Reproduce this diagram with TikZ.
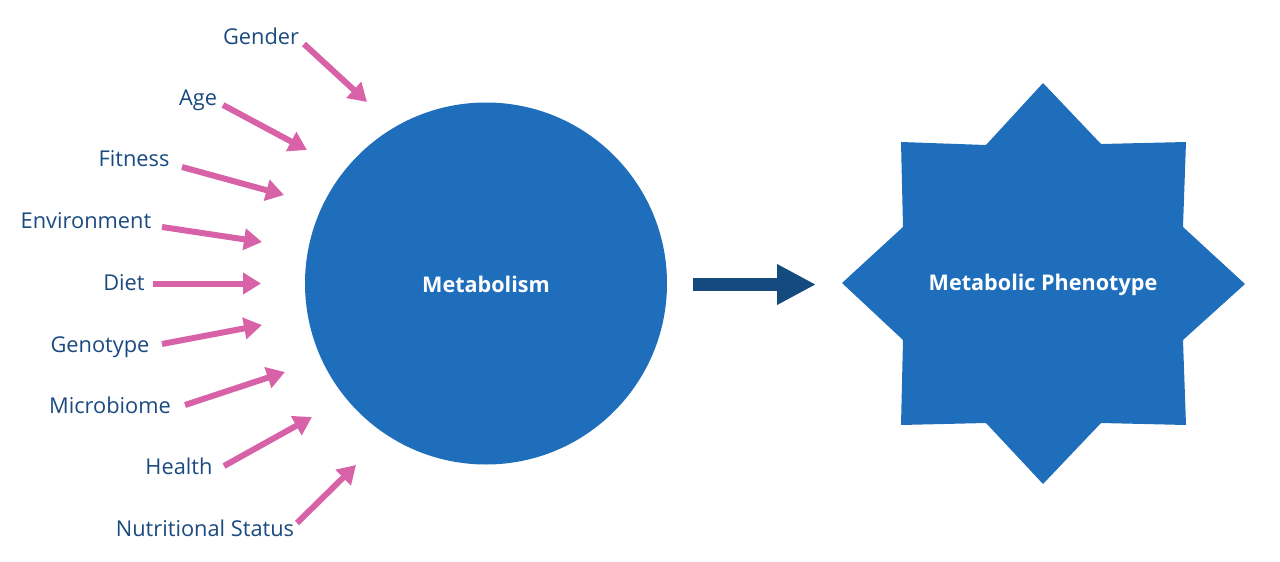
\documentclass[tikz,border=0pt]{standalone}
\usepackage{fontspec}
\setmainfont{Open Sans}
\usetikzlibrary{arrows.meta}
\definecolor{circblue}{HTML}{1F6EBC}
\definecolor{navy}{HTML}{154A7E}
\definecolor{labblue}{HTML}{1A4A80}
\definecolor{pinkarr}{HTML}{D862A8}
\tikzset{
  factor/.style={anchor=base, text=labblue, font=\fontsize{21.8}{26}\selectfont, inner sep=0pt},
  inflow/.style={draw=pinkarr, line width=6pt, -{Triangle[width=21pt,length=18pt]}},
  bigtext/.style={text=white, font=\fontsize{21.6}{26}\selectfont\bfseries, inner sep=0pt},
}
\begin{document}
\begin{tikzpicture}[x=1pt,y=-1pt]
\useasboundingbox (0,0) rectangle (1280,562);
% main shapes
\fill[circblue] (486,283.5) circle (181);
\node[bigtext] (metab) at (486,284.5) {Metabolism};
\fill[circblue] (1043,83) -- (1101,144) -- (1186,142) -- (1183,227) -- (1245,284)
  -- (1183,340) -- (1186,425) -- (1101,423) -- (1043,484) -- (986,423)
  -- (901,425) -- (903,340) -- (842,283) -- (903,227) -- (901,142) -- (986,145) -- cycle;
\node[bigtext] (pheno) at (1043,285) {Metabolic Phenotype};
% big arrow
\coordinate (ba1) at (693,284.5);
\coordinate (ba2) at (816,284.5);
\draw[navy, line width=13pt, -{Triangle[width=38pt,length=39pt]}] (ba1) -- (ba2);
% labels
\node[factor] (gender) at (261,44) {Gender};
\node[factor] (age) at (198,105) {Age};
\node[factor] (fitness) at (134,166) {Fitness};
\node[factor] (env) at (86,228) {Environment};
\node[factor] (diet) at (124,290) {Diet};
\node[factor] (geno) at (100,352) {Genotype};
\node[factor] (micro) at (110,413) {Microbiome};
\node[factor] (health) at (179,474) {Health};
\node[factor] (nutri) at (205,536) {Nutritional Status};
% arrow endpoints
\coordinate (s1) at (304,44);  \coordinate (t1) at (367,102);
\coordinate (s2) at (223,105); \coordinate (t2) at (307,150);
\coordinate (s3) at (182,167); \coordinate (t3) at (284,195);
\coordinate (s4) at (162,227); \coordinate (t4) at (262,242);
\coordinate (s5) at (153,283.5); \coordinate (t5) at (261,283.5);
\coordinate (s6) at (162,344); \coordinate (t6) at (262,325);
\coordinate (s7) at (185,405); \coordinate (t7) at (285,372);
\coordinate (s8) at (224,466); \coordinate (t8) at (312,417);
\coordinate (s9) at (297,523); \coordinate (t9) at (356,465);
\foreach \i in {1,...,9} { \draw[inflow] (s\i) -- (t\i); }
\end{tikzpicture}
\end{document}
